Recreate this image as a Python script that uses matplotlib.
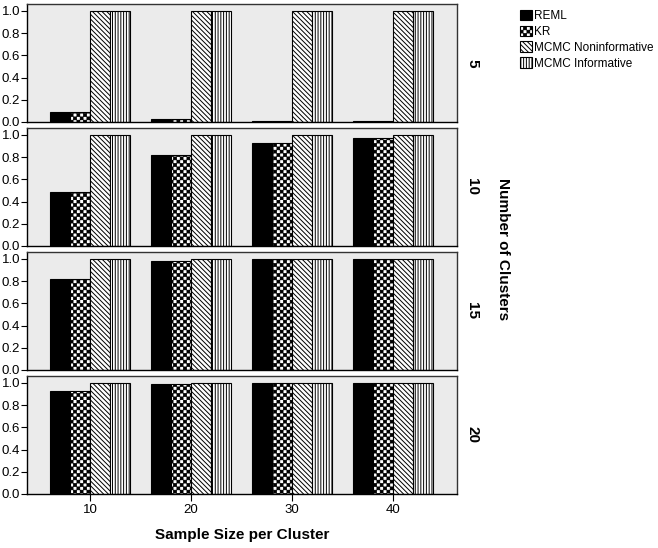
import numpy as np
import matplotlib
matplotlib.use('Agg')
import matplotlib.pyplot as plt
from matplotlib import hatch as mhatch
from matplotlib.path import Path
from matplotlib.patches import Patch

# data
sample_sizes = [10, 20, 30, 40]
clusters = ['5', '10', '15', '20']
reml = [[0.09, 0.03, 0.01, 0.005],
        [0.49, 0.82, 0.93, 0.97],
        [0.82, 0.98, 1.0, 1.0],
        [0.93, 0.995, 1.0, 1.0]]
kr = [[0.09, 0.03, 0.01, 0.005],
      [0.49, 0.82, 0.93, 0.97],
      [0.82, 0.98, 1.0, 1.0],
      [0.93, 0.995, 1.0, 1.0]]
mcmc_non = [[1.0, 1.0, 1.0, 1.0]] * 4
mcmc_inf = [[1.0, 1.0, 1.0, 1.0]] * 4
methods = ['REML', 'KR', 'MCMC Noninformative', 'MCMC Informative']


# checkerboard hatch (takes over the '*' character)
class CheckerHatch(mhatch.HatchPatternBase):
    def __init__(self, hatch, density):
        self.n = 30 if '*' in hatch else 0
        self.num_vertices = (self.n * self.n // 2) * 5

    def set_vertices_and_codes(self, vertices, codes):
        s = 1.0 / self.n
        d = s * 0.8
        i = 0
        for r in range(self.n):
            for c in range(self.n):
                if (r + c) % 2:
                    continue
                x0, y0 = c * s + 0.1 * s, r * s + 0.1 * s
                vertices[i:i + 5] = [(x0, y0), (x0 + d, y0), (x0 + d, y0 + d),
                                     (x0, y0 + d), (x0, y0)]
                codes[i:i + 5] = [Path.MOVETO, Path.LINETO, Path.LINETO,
                                  Path.LINETO, Path.CLOSEPOLY]
                i += 5


mhatch._hatch_types = [t for t in mhatch._hatch_types if t is not mhatch.Stars] + [CheckerHatch]

plt.rcParams['font.family'] = ['Liberation Sans', 'DejaVu Sans']
plt.rcParams['hatch.linewidth'] = 0.7

W, H = 658, 548
fig = plt.figure(figsize=(W / 100, H / 100), dpi=100)

styles = [dict(color='black', hatch=None),
          dict(color='white', hatch='*'),
          dict(color='white', hatch='\\' * 7),
          dict(color='white', hatch='|' * 6)]
offsets = [-3, -1, 1, 3]
series = [reml, kr, mcmc_non, mcmc_inf]

x = np.array(sample_sizes, dtype=float)
for i, lab in enumerate(clusters):
    bottom_px = 122 + i * 124
    ax = fig.add_axes([27 / W, 1 - bottom_px / H, 430 / W, 118 / H])
    ax.set_facecolor('#ebebeb')
    for s, st, off in zip(series, styles, offsets):
        ax.bar(x + off, s[i], width=2, color=st['color'], hatch=st['hatch'],
               edgecolor='black', linewidth=0.8)
    ax.set_xlim(3.76, 46.34)
    ax.set_ylim(0, 1.063)
    ax.set_yticks([0, 0.2, 0.4, 0.6, 0.8, 1.0])
    ax.set_yticklabels(['0.0', '0.2', '0.4', '0.6', '0.8', '1.0'])
    ax.tick_params(axis='y', length=4, width=0.8, labelsize=9.5, pad=1)
    for sp in ax.spines.values():
        sp.set_color('#333333')
        sp.set_linewidth(1)
    ax.spines['left'].set_color('black')
    ax.spines['bottom'].set_color('black')
    ax.text(1.035, 0.5, lab, transform=ax.transAxes, rotation=270,
            ha='center', va='center', fontsize=11, fontweight='bold')
    if i < 3:
        ax.set_xticks([])
    else:
        ax.set_xticks(sample_sizes)
        ax.tick_params(axis='x', length=5, width=0.8, labelsize=9.5, pad=2)
        ax.set_xlabel('Sample Size per Cluster', fontsize=11, fontweight='bold',
                      labelpad=9)

fig.text(503 / W, 1 - 249 / H, 'Number of Clusters', rotation=270,
         ha='center', va='center', fontsize=11, fontweight='bold')

handles = [Patch(facecolor=st['color'], hatch=st['hatch'], edgecolor='black',
                 linewidth=0.8) for st in styles]
fig.legend(handles, methods, loc='upper left', bbox_to_anchor=(515 / W, 1 - 5 / H),
           frameon=False, fontsize=8.5, handlelength=1.0, handleheight=1.0,
           handletextpad=0.25, labelspacing=0.3, borderaxespad=0)

fig.savefig('out.png', dpi=100)
